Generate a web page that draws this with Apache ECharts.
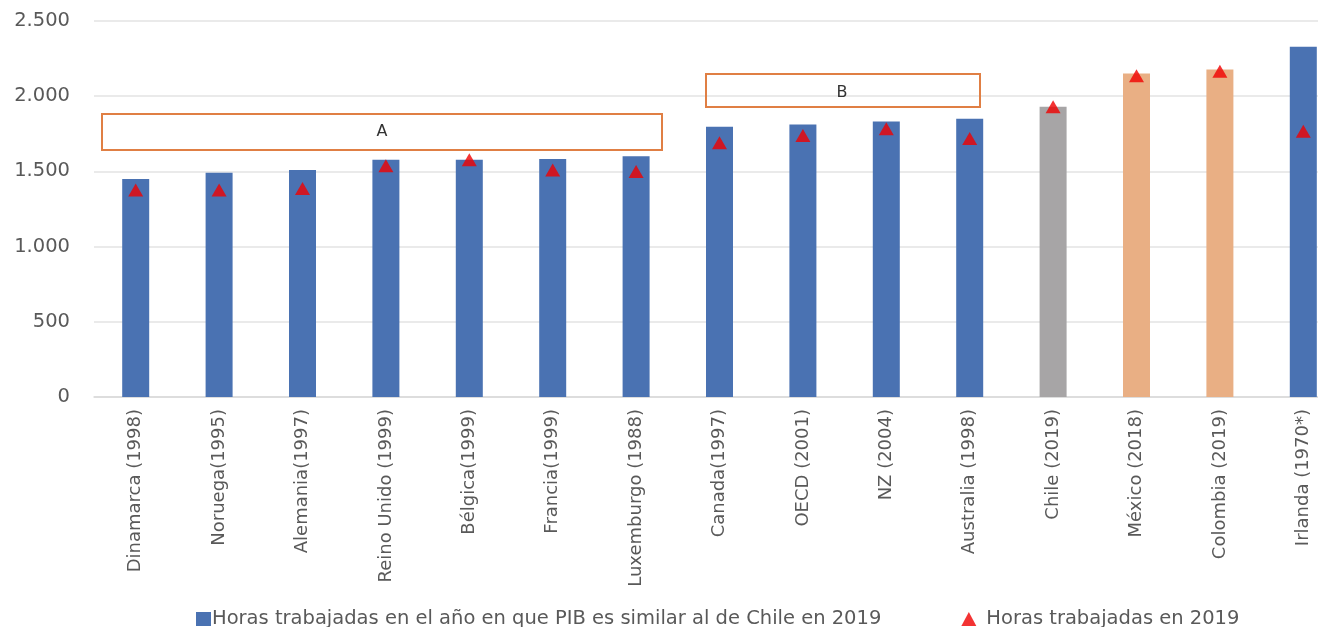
<!DOCTYPE html>
<html>
<head>
<meta charset="utf-8">
<script src="https://cdn.jsdelivr.net/npm/echarts@6/dist/echarts.min.js"></script>
<style>
  html, body { margin: 0; padding: 0; background: #ffffff; }
  #chart { width: 1318px; height: 627px; }
</style>
</head>
<body>
<div id="chart"></div>
<script>
// Countries with the year in which their GDP per capita was similar to Chile's in 2019
const categories = [
  'Dinamarca (1998)', 'Noruega(1995)', 'Alemania(1997)', 'Reino Unido (1999)',
  'Bélgica(1999)', 'Francia(1999)', 'Luxemburgo (1988)', 'Canada(1997)',
  'OECD (2001)', 'NZ (2004)', 'Australia (1998)', 'Chile (2019)',
  'México (2018)', 'Colombia (2019)', 'Irlanda (1970*)'
];

// Annual hours worked in the year of comparable GDP
const hoursSimilarGdp = [1449, 1491, 1509, 1577, 1577, 1582, 1600, 1797, 1812, 1832, 1850, 1930, 2151, 2178, 2328];

// Annual hours worked in 2019
const hours2019 = [1376, 1376, 1387, 1537, 1577, 1509, 1500, 1690, 1739, 1783, 1719, 1930, 2136, 2166, 1767];

// Bar colour groups: 0 = reference countries, 1 = Chile, 2 = Latin American peers
const barGroup = [0, 0, 0, 0, 0, 0, 0, 0, 0, 0, 0, 1, 2, 2, 0];

const yTicks = { min: 0, max: 2500, interval: 500 };

const legendNames = [
  'Horas trabajadas en el año en que PIB es similar al de Chile en 2019',
  'Horas trabajadas en 2019'
];

const palette = ['#4A72B2', '#A7A5A6', '#E9AF84'];
const textColor = '#595959';
const font = 'DejaVu Sans';

const chart = echarts.init(document.getElementById('chart'));

function thousands(v) {
  return String(v).replace(/\B(?=(\d{3})+(?!\d))/g, '.');
}

const boxStyle = { fill: 'rgba(255,255,255,0)', stroke: '#E07F44', lineWidth: 2 };

chart.setOption({
  animation: false,
  backgroundColor: '#ffffff',
  textStyle: { fontFamily: font },
  // plot area runs past the right edge of the canvas, so the last bar sits at the border
  grid: {
    left: 94, top: 21, width: 1251, height: 376,
    containLabel: false,
    outerBoundsMode: 'none'
  },
  legend: {
    left: 196,
    top: 609,
    padding: 0,
    itemGap: 80,
    itemWidth: 15,
    itemHeight: 14,
    textStyle: { fontFamily: font, fontSize: 19.5, color: textColor, padding: [0, 0, 0, -4] },
    data: [
      { name: legendNames[0], icon: 'rect' },
      { name: legendNames[1], icon: 'triangle', textStyle: { padding: [0, 0, 0, 5] } }
    ]
  },
  xAxis: {
    type: 'category',
    data: categories,
    axisTick: { show: false },
    axisLine: { lineStyle: { color: '#D9D9D9', width: 1.5 } },
    axisLabel: {
      rotate: 90,
      interval: 0,
      margin: 12,
      color: textColor,
      fontFamily: font,
      fontSize: 18
    }
  },
  yAxis: {
    type: 'value',
    min: yTicks.min,
    max: yTicks.max,
    interval: yTicks.interval,
    axisLine: { show: false },
    axisTick: { show: false },
    splitLine: { lineStyle: { color: '#E3E3E3', width: 1.5 } },
    axisLabel: {
      margin: 24,
      color: textColor,
      fontFamily: font,
      fontSize: 19.5,
      formatter: thousands
    }
  },
  series: [
    {
      name: legendNames[0],
      type: 'bar',
      barWidth: 27,
      itemStyle: { color: palette[0] },
      data: hoursSimilarGdp.map((v, i) => ({
        value: v,
        itemStyle: { color: palette[barGroup[i]] }
      })),
      z: 2
    },
    {
      name: legendNames[1],
      type: 'scatter',
      symbol: 'triangle',
      symbolSize: [15, 13],
      itemStyle: { color: '#F00000' },
      data: hours2019,
      z: 3
    }
  ],
  graphic: [
    { type: 'rect', shape: { x: 102, y: 114, width: 560, height: 36 }, style: boxStyle, z: 10 },
    { type: 'text', x: 382, y: 132, style: { text: 'A', font: '16px "' + font + '"', fill: '#333333', align: 'center', verticalAlign: 'middle' }, z: 11 },
    { type: 'rect', shape: { x: 706, y: 74, width: 274, height: 33 }, style: boxStyle, z: 10 },
    { type: 'text', x: 842, y: 93, style: { text: 'B', font: '16px "' + font + '"', fill: '#333333', align: 'center', verticalAlign: 'middle' }, z: 11 }
  ]
});
</script>
</body>
</html>
